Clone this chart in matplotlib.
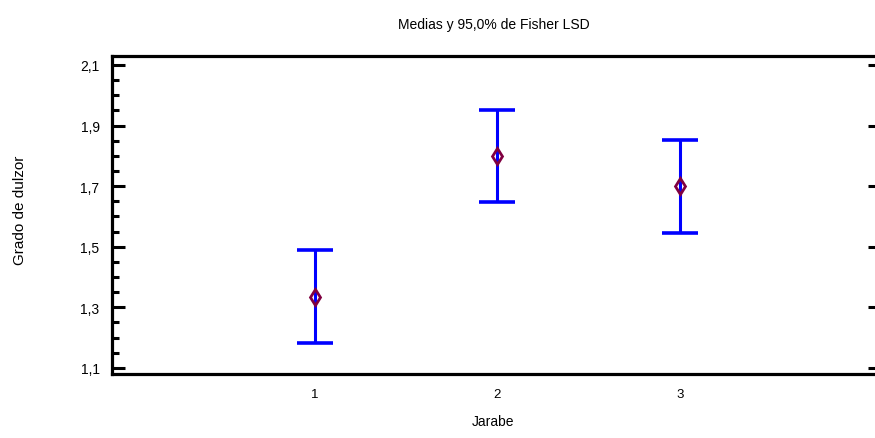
import matplotlib
matplotlib.use("Agg")
import matplotlib.pyplot as plt
from matplotlib.ticker import MultipleLocator, FuncFormatter

categories = ["1", "2", "3"]
means = [1.333, 1.800, 1.700]
lower = [1.182, 1.647, 1.546]
upper = [1.488, 1.951, 1.853]
yticks = [1.1, 1.3, 1.5, 1.7, 1.9, 2.1]

narrow = ["Liberation Sans Narrow", "Liberation Sans", "DejaVu Sans"]
plt.rcParams['font.family'] = narrow

fig = plt.figure(figsize=(8.75, 4.39), dpi=100)
ax = fig.add_axes([0.128, 0.1458, 0.872, 0.7244])

x = [i + 1 for i in range(len(categories))]
yerr = [[m - l for m, l in zip(means, lower)], [u - m for m, u in zip(means, upper)]]
ax.errorbar(x, means, yerr=yerr, fmt='none', ecolor='#0000ff', elinewidth=2.2,
            capsize=13, capthick=2.6, zorder=2)
ax.plot(x, means, linestyle='none', marker='d', markersize=8, markerfacecolor='none',
        markeredgecolor='#800040', markeredgewidth=2.0, zorder=3)

ax.set_xlim(-0.112, 4.07)
ax.set_ylim(1.080, 2.1297)
ax.set_xticks(x)
ax.set_xticklabels(categories, fontsize=9.5)
ax.set_yticks(yticks)
ax.yaxis.set_minor_locator(MultipleLocator(0.05))
ax.yaxis.set_major_formatter(FuncFormatter(lambda v, p: f"{v:.1f}".replace('.', ',')))

for s in ['top', 'bottom', 'left']:
    ax.spines[s].set_linewidth(2.3)
ax.spines['right'].set_visible(False)

ax.tick_params(axis='x', length=0, pad=10, labelsize=9.5)
ax.tick_params(axis='y', which='major', direction='in', length=9, width=2.2,
               labelsize=10, pad=9, right=True)
ax.tick_params(axis='y', which='minor', direction='in', length=5, width=2.2)
for t in ax.yaxis.get_major_ticks():
    t.tick2line.set_markersize(5)

ax.set_title("Medias y 95,0% de Fisher LSD", fontsize=10, pad=20)
ax.set_xlabel("Jarabe", fontsize=10, labelpad=10)
ax.set_ylabel("Grado de dulzor", fontsize=11,
              family=["Liberation Sans", "DejaVu Sans"])
ax.yaxis.set_label_coords(-0.1114, 0.519)

fig.savefig("out.png", dpi=100)
